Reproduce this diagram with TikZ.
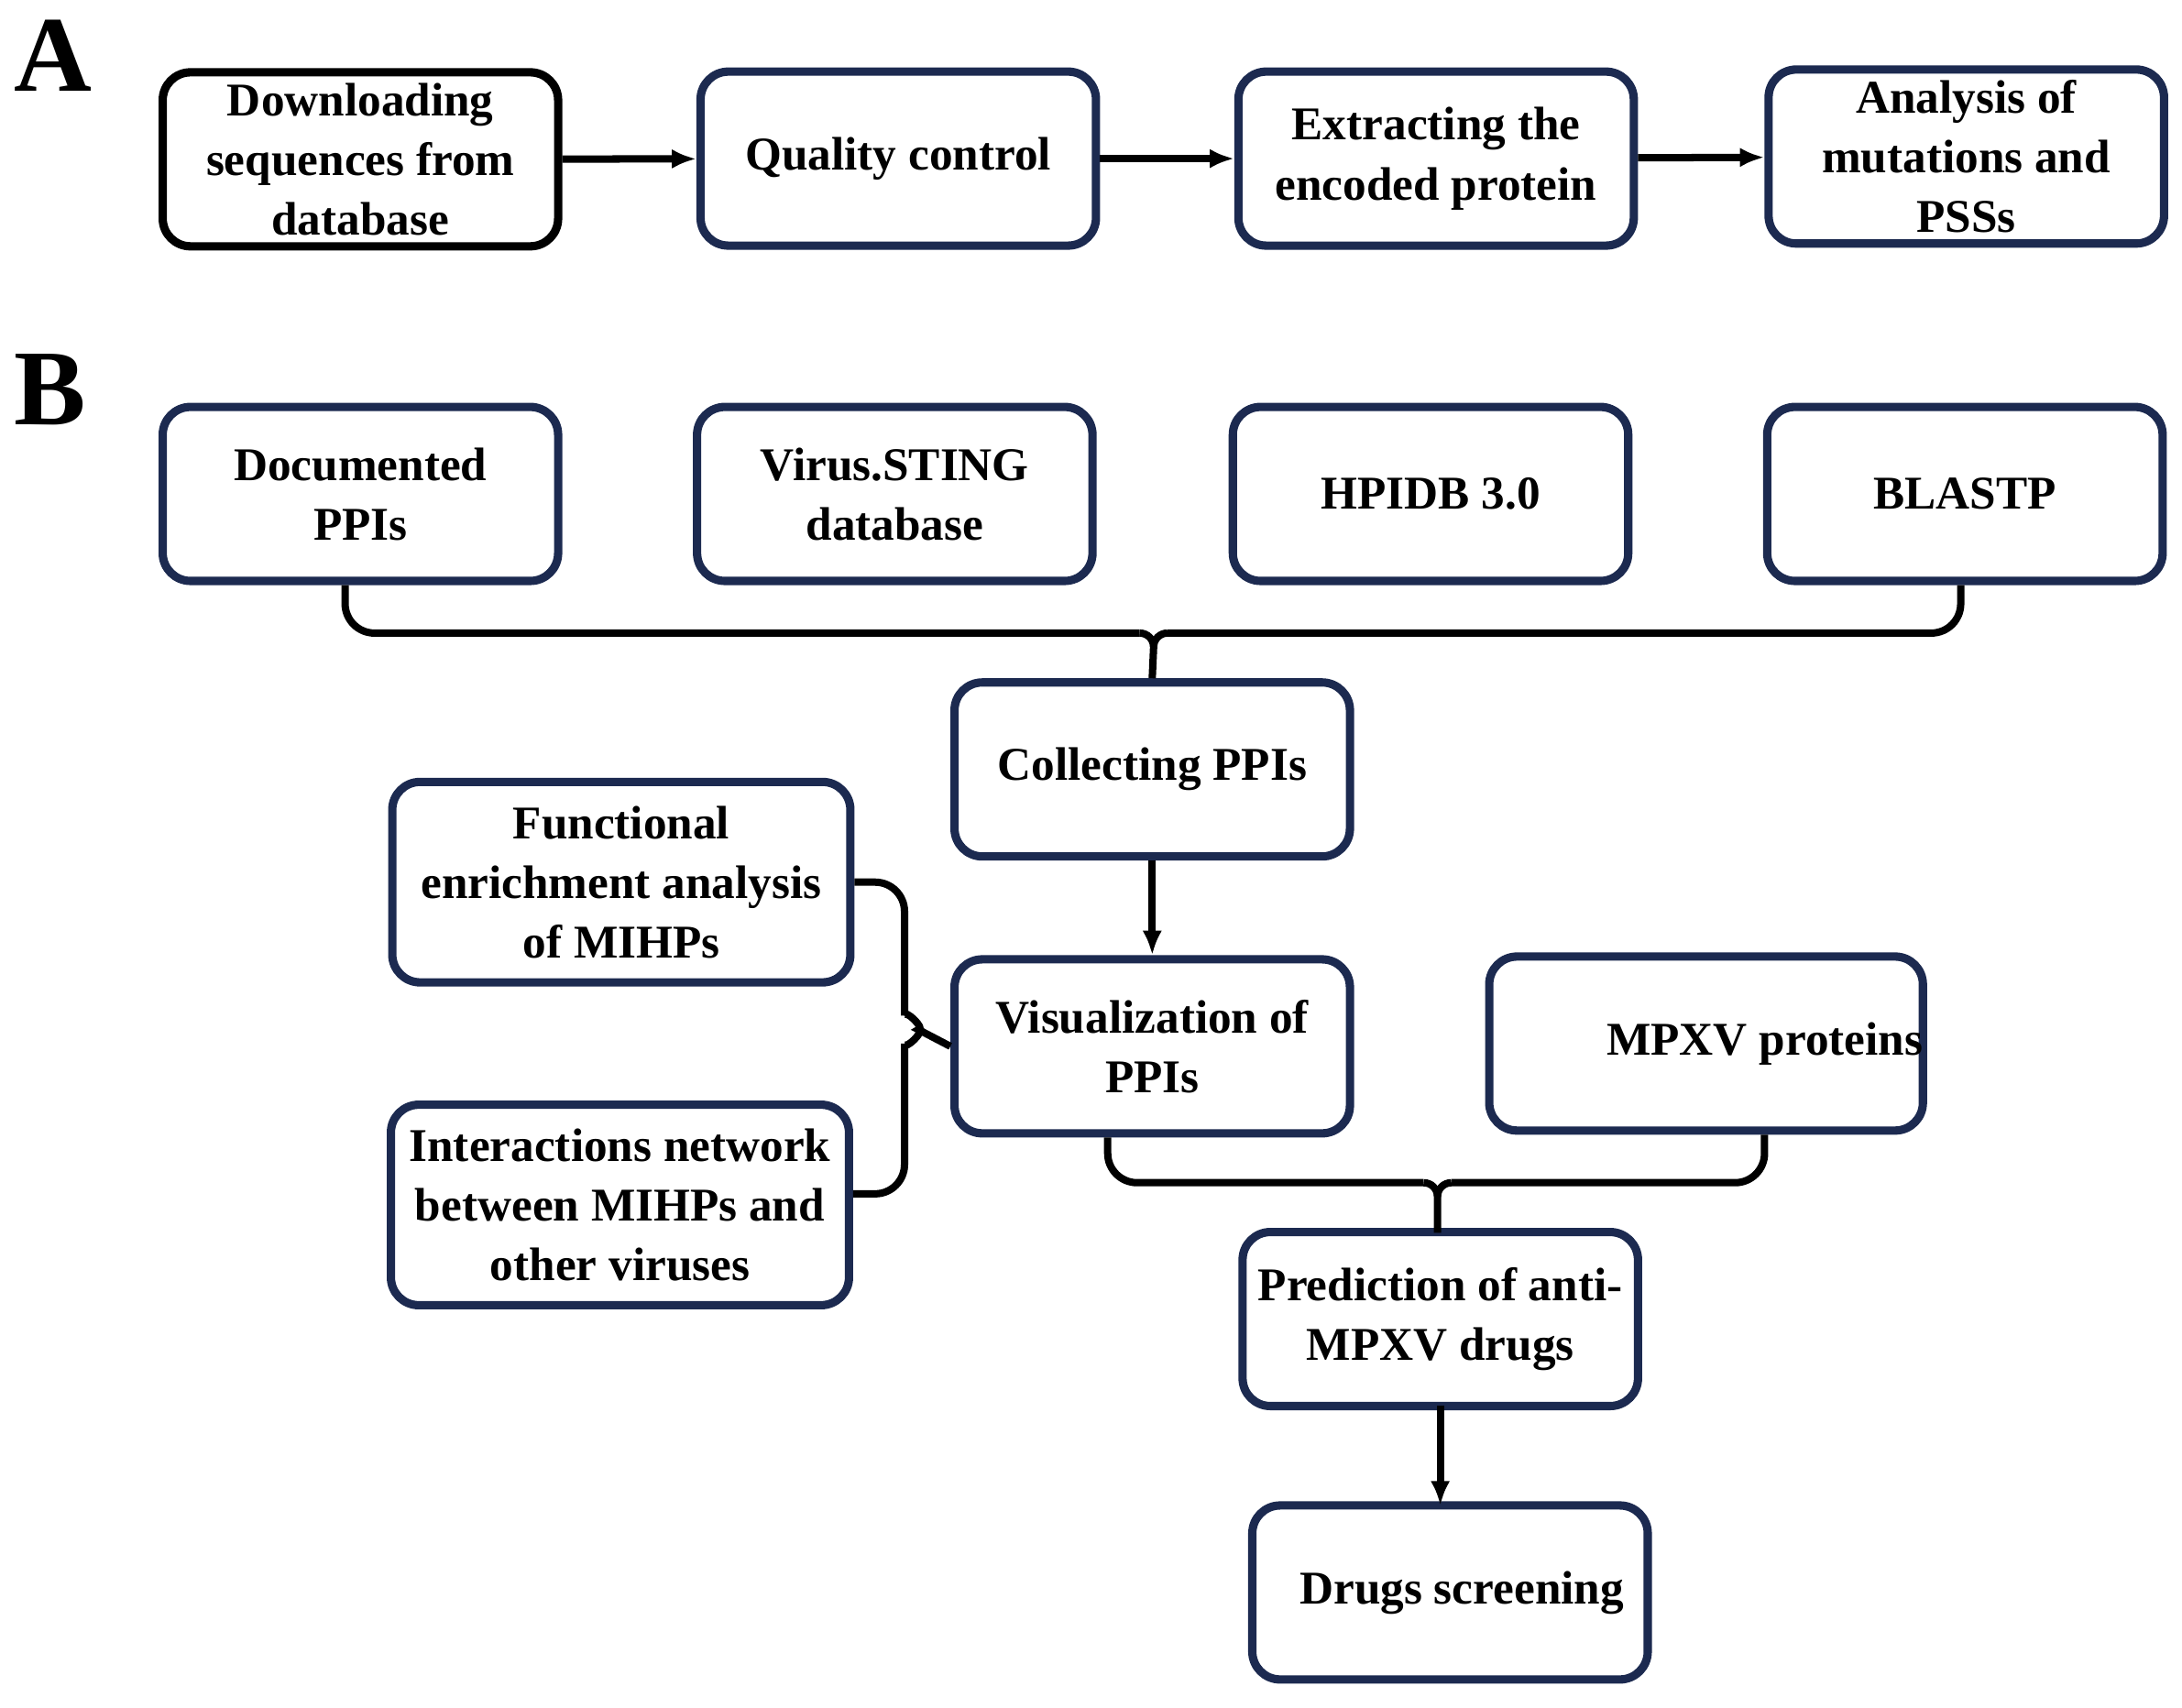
\documentclass[tikz,border=0pt]{standalone}
\usepackage{fontspec}
\setmainfont{Liberation Serif}
\usetikzlibrary{calc,arrows.meta}
\definecolor{navy}{HTML}{1C2A50}
\begin{document}
\begin{tikzpicture}[x=0.01cm,y=-0.01cm,
 box/.style={draw=navy,line width=1.7pt,rounded corners=0.2cm,align=center,inner sep=0pt,
   minimum width=2.84cm,minimum height=1.25cm,font=\fontsize{9.6}{12.2}\selectfont\bfseries},
 conn/.style={line width=1.5pt,black},
 arr/.style={conn,-{Latex[length=5pt,width=4pt]}}]
\useasboundingbox (0,0) rectangle (1568,1227.5);
\node[font=\fontsize{22}{22}\selectfont\bfseries] (LA) at (38,40) {A};
\node[font=\fontsize{22}{22}\selectfont\bfseries] (LB) at (36,280) {B};
\node[box,draw=black] (a1) at (259,114.5) {Downloading\\sequences from\\database};
\node[box] (a2) at (645.5,114) {Quality control};
\node[box] (a3) at (1032,114) {Extracting the\\encoded protein};
\node[box] (a4) at (1413,112.5) {Analysis of\\mutations and\\PSSs};
\draw[arr] (a1) -- (a2); \draw[arr] (a2) -- (a3); \draw[arr] (a3) -- (a4);
\node[box] (b1) at (259,355) {Documented\\PPIs};
\node[box] (b2) at (643,355) {Virus.STING\\database};
\node[box] (b3) at (1028,355) {HPIDB 3.0};
\node[box] (b4) at (1412,355) {BLASTP};
\node[box] (collect) at (828,553) {Collecting PPIs};
\node[box] (vis) at (828,752) {Visualization of\\PPIs};
\node[box,minimum width=3.29cm,minimum height=1.44cm] (func) at (446.5,634) {Functional\\enrichment analysis\\of MIHPs};
\node[box,minimum width=3.29cm,minimum height=1.44cm] (inter) at (445.5,866) {Interactions network\\between MIHPs and\\other viruses};
\node[box] (mpxv) at (1226,750) {\hspace*{2.5em}MPXV proteins};
\node[box] (pred) at (1035,948) {Prediction of anti-\\MPXV drugs};
\node[box] (drugs) at (1042,1144.5) {\hspace*{0.5em}Drugs screening};
% top brace
\draw[conn,rounded corners=6pt] ($(b1.south)+(-11,0)$) |- (819,455);
\draw[conn,rounded corners=6pt] ($(b4.south)+(-3,0)$) |- (839,455);
\draw[conn] (819,455) to[out=0,in=90] (829,465) -- (collect.north);
\draw[conn] (839,455) to[out=180,in=90] (829,465);
\draw[arr] (collect) -- (vis);
% left brace
\draw[conn,rounded corners=6pt] (func.east) -| (650,730);
\draw[conn,rounded corners=6pt] ($(inter.east)+(0,-8)$) -| (650,750);
\draw[conn] (650,730) to[out=90,in=0] (660,740) -- (vis.west);
\draw[conn] (650,750) to[out=-90,in=0] (660,740);
% bottom brace
\draw[conn,rounded corners=6pt] ($(vis.south)+(-32,0)$) |- (1023,850);
\draw[conn,rounded corners=6pt] ($(mpxv.south)+(42,0)$) |- (1043,850);
\draw[conn] (1023,850) to[out=0,in=90] (1033,860) -- (1033,886);
\draw[conn] (1043,850) to[out=180,in=90] (1033,860);
\draw[arr] (1035,1010) -- (1035,1082);
\end{tikzpicture}
\end{document}
